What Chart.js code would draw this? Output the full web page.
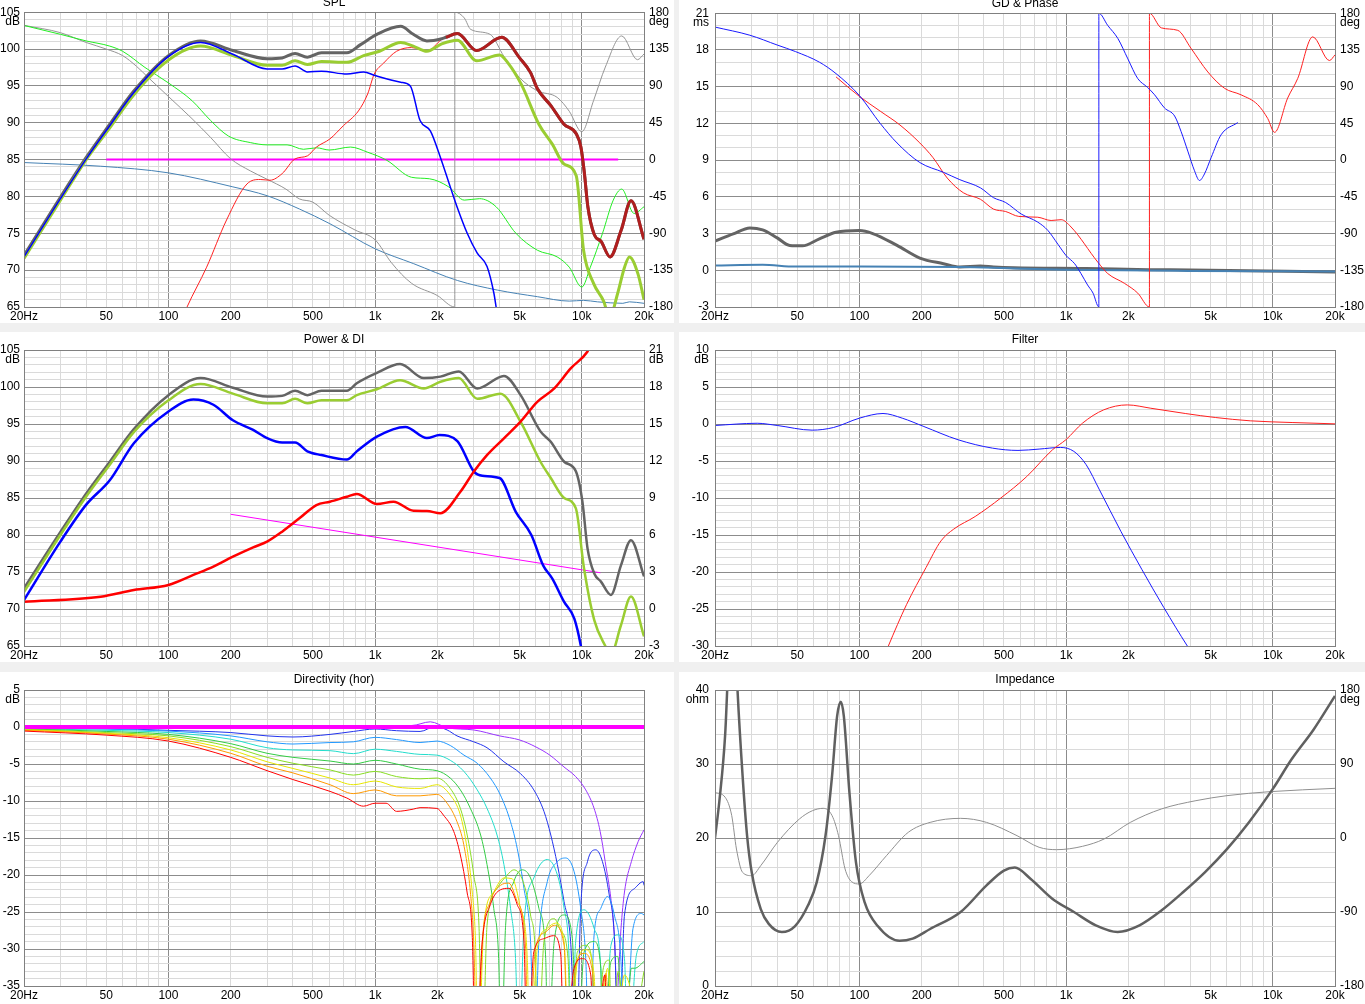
<!DOCTYPE html>
<html>
<head>
<meta charset="utf-8">
<script src="https://cdn.jsdelivr.net/npm/chart.js@4.4.0/dist/chart.umd.min.js"></script>
<style>
  body { margin: 0; background: #f0f0f0; width: 1365px; height: 1004px; overflow: hidden; position: relative; }
  .panel { position: absolute; background: #fff; }
  canvas { display: block; }
</style>
</head>
<body>
<div class="panel" style="left:0;top:0;width:674px;height:323px"><canvas id="spl" width="674" height="323"></canvas></div>
<div class="panel" style="left:679px;top:0;width:686px;height:323px"><canvas id="gd" width="686" height="323"></canvas></div>
<div class="panel" style="left:0;top:332px;width:674px;height:330px"><canvas id="pw" width="674" height="330"></canvas></div>
<div class="panel" style="left:679px;top:332px;width:686px;height:330px"><canvas id="flt" width="686" height="330"></canvas></div>
<div class="panel" style="left:0;top:672px;width:674px;height:332px"><canvas id="dir" width="674" height="332"></canvas></div>
<div class="panel" style="left:679px;top:672px;width:686px;height:332px"><canvas id="imp" width="686" height="332"></canvas></div>
<script>
// x axis (Hz)
const xGrid = [20, 30, 40, 50, 60, 70, 80, 90, 100, 200, 300, 400, 500, 600, 700, 800, 900,
  1000, 2000, 3000, 4000, 5000, 6000, 7000, 8000, 9000, 10000, 20000];
const xLabelVals = [20, 50, 100, 200, 500, 1000, 2000, 5000, 10000, 20000];
const xLabelText = ['20Hz', '50', '100', '200', '500', '1k', '2k', '5k', '10k', '20k'];
const xMajor = [100, 1000, 10000];

// SPL (dB, phase in deg)
const splTotF = [20, 30, 40, 52, 68, 100, 143, 205, 300, 355, 410, 470, 550, 730, 850, 1020, 1330, 1530, 1780, 2100];
const splTotV = [72.0, 79.9, 85.3, 89.8, 94.3, 99.1, 101.1, 99.8, 98.7, 98.8, 99.4, 98.9, 99.5, 99.5, 100.6, 102.0, 103.1, 102.0, 101.1, 101.4];
const splHiF = [2200, 2500, 3100, 4100, 5000, 5650, 6100, 7100, 8200, 9400, 9900, 10300, 10700, 11500, 12400, 13700, 15500, 17300, 20000];
const splHiV = [101.6, 102.1, 99.8, 101.6, 98.8, 96.8, 94.6, 92.3, 89.8, 88.5, 86.7, 83.1, 78.6, 74.8, 73.9, 71.8, 75.4, 79.4, 74.2];
const splYgF = [20, 30, 40, 52, 68, 100, 143, 205, 300, 355, 410, 470, 550, 730, 880, 1050, 1330, 1530, 1780, 2100,
  2500, 3100, 4000, 4400, 5100, 6200, 7200, 8200, 9400, 10200, 11400, 12800, 13600, 14900, 16100, 17000, 18700, 20000];
const splYgV = [71.6, 79.5, 85.0, 89.3, 93.8, 98.5, 100.4, 99.1, 97.8, 97.8, 98.4, 97.9, 98.3, 98.2, 99.1, 99.7, 100.9, 100.4, 99.7, 100.7,
  101.2, 98.4, 99.2, 98.1, 95.2, 89.8, 87.1, 84.4, 82.8, 72.7, 68.2, 65.7, 63.5, 66.8, 70.4, 71.8, 69.5, 66.0];
const splWooF = [20, 30, 40, 52, 68, 100, 143, 205, 300, 355, 410, 470, 550, 730, 880, 1000, 1330, 1480, 1650, 1850,
  2070, 2310, 2490, 2790, 3120, 3480, 3760, 3850, 4000];
const splWooV = [71.8, 79.7, 85.1, 89.6, 94.1, 99.0, 100.9, 99.3, 97.3, 97.3, 97.7, 96.9, 97.0, 96.6, 96.9, 96.4, 95.5, 95.0, 90.3, 88.9,
  85.3, 81.3, 78.6, 75.0, 72.3, 70.5, 66.8, 65.0, 62.0];
const splGrnF = [20, 30, 40, 52, 60, 77, 100, 130, 160, 195, 250, 300, 375, 450, 520, 600, 760, 920, 1140, 1500,
  1830, 2270, 2700, 3200, 3850, 4800, 6100, 7600, 8700, 10000, 11000, 12600, 14200, 15600, 17900, 20000];
const splGrnV = [103.2, 102.0, 101.1, 100.4, 99.7, 97.5, 95.4, 93.0, 90.3, 88.2, 87.3, 87.0, 87.0, 86.4, 86.6, 86.3, 86.7, 86.0, 84.9, 82.6,
  82.4, 81.3, 79.5, 79.7, 78.6, 75.0, 72.7, 71.8, 70.4, 67.7, 70.4, 75.0, 79.5, 81.0, 77.7, 78.6];
const splPhF = [20, 30, 40, 50, 60, 70, 80, 100, 130, 160, 200, 250, 300, 370, 430, 500, 600, 800, 1000, 1200,
  1500, 2000, 2430, 2430, 2700, 2900, 3600, 4200, 5000, 6100, 7600, 8700, 10000, 11400, 13000, 15600, 18600, 20000];
const splPhV = [164, 155, 143, 135, 127, 114, 100, 77, 50, 27, 1, -14, -24, -36, -48, -52, -68, -86, -98, -126,
  -151, -166, -180, 180, 173, 159, 153, 126, 100, 84, 76, 59, 34, 72, 113, 151, 122, 129];
const splTwF = [115, 123, 153, 191, 240, 278, 310, 355, 410, 470, 520, 604, 702, 830, 920, 990, 1100, 1270, 1500, 1780, 2100, 2300];
const splTwV = [63, 65, 70.4, 76.8, 81.7, 82.3, 82.2, 83.1, 85.1, 85.5, 86.7, 87.8, 89.6, 91.6, 93.9, 96.6, 98.1, 99.7, 100.2, 99.7, 101.3, 101.8];
const splSbF = [20, 47, 100, 205, 300, 430, 604, 1000, 1530, 2500, 3900, 6100, 8700, 10200, 11900, 15800, 17000, 20000];
const splSbV = [84.6, 84.1, 83.2, 81.3, 80.1, 78.3, 76.3, 72.9, 70.9, 68.6, 67.3, 66.4, 65.8, 65.9, 65.7, 65.5, 65.7, 65.5];
const splRefF = [50, 15000];
const splRefV = [85, 85];

// GD (ms) & phase (deg)
const gdPhBF = [20, 29.5, 40, 49, 64, 77, 100, 126, 152, 196, 255, 306, 385, 445, 510, 606, 729, 815, 912, 1000,
  1100, 1180, 1270, 1350, 1440, 1440, 1590, 1780, 1990, 2220, 2480, 2680, 2990, 3350, 3600, 3880, 4180, 4420, 4670, 5030, 5620, 6770];
const gdPhBV = [163, 153, 141, 133, 120, 106, 79, 45, 21, -3, -15, -24, -34, -46, -52, -66, -76, -86, -103, -117,
  -127, -139, -153, -163, -180, 180, 165, 149, 124, 100, 89, 80, 64, 54, 35, 11, -13, -25, -17, 3, 31, 46];
const gdPhRF = [77, 100, 126, 157, 196, 227, 266, 318, 385, 445, 510, 590, 729, 846, 946, 1057, 1423, 1590, 1915, 2222,
  2530, 2530, 2890, 3470, 4020, 4850, 5840, 7020, 8450, 9450, 10200, 11800, 13200, 15600, 18800, 20000];
const gdPhRV = [102, 78, 60, 43, 21, 3, -22, -40, -48, -60, -63, -69, -70, -74, -73, -82, -125, -139, -151, -163,
  -180, 180, 162, 159, 137, 108, 88, 80, 68, 51, 34, 76, 100, 151, 122, 129];
const gdTotF = [20, 24.5, 29.5, 34, 40, 46, 53, 64, 77, 100, 116, 152, 196, 255, 306, 385, 445, 560, 1250, 2500, 4000, 20000];
const gdTotV = [2.38, 2.97, 3.46, 3.3, 2.65, 2.03, 2.0, 2.57, 3.1, 3.24, 3.0, 2.03, 1.0, 0.54, 0.27, 0.35, 0.27, 0.2, 0.14, 0.05, 0.03, -0.14];
const gdSbF = [20, 34, 49, 100, 306, 560, 1000, 3900, 20000];
const gdSbV = [0.4, 0.45, 0.3, 0.3, 0.27, 0.15, 0.05, -0.05, -0.1];

// Power & DI
const pwTotF = [20, 30, 40, 52, 68, 100, 143, 205, 300, 355, 410, 470, 550, 730, 815, 1020, 1320, 1720, 2070, 2540,
  3120, 4200, 5060, 6310, 7080, 8220, 9360, 10070, 10660, 11490, 12380, 13830, 15470, 17300, 20000];
const pwTotV = [72.8, 80.4, 85.6, 89.9, 94.3, 98.9, 101.2, 99.9, 98.7, 98.8, 99.5, 98.9, 99.5, 99.5, 100.5, 101.9, 103.1, 101.2, 101.4, 102.1,
  99.8, 101.5, 98.9, 94.0, 92.6, 89.9, 88.6, 84.5, 78.2, 74.8, 73.7, 71.9, 75.9, 79.3, 74.4];
const pwYgF = [20, 30, 40, 52, 68, 100, 143, 205, 300, 355, 410, 470, 550, 730, 815, 1020, 1320, 1720, 2070, 2540,
  3120, 4040, 5060, 6310, 7080, 8220, 9360, 10250, 11490, 13000, 13800, 15470, 17300, 20000];
const pwYgV = [72.3, 80.0, 85.2, 89.5, 93.9, 98.2, 100.4, 99.1, 97.8, 97.8, 98.4, 97.8, 98.2, 98.2, 98.9, 99.7, 100.9, 99.8, 100.7, 101.2,
  98.4, 99.1, 95.3, 89.9, 87.7, 85.0, 83.6, 75.5, 68.5, 65.0, 63.8, 67.8, 71.7, 66.3];
const pwPowF = [20, 30, 40, 52, 68, 100, 132, 165, 205, 257, 300, 355, 410, 470, 550, 730, 815, 1020, 1400, 1780,
  2050, 2500, 3000, 3300, 4000, 4800, 5700, 6500, 7200, 8200, 9200, 9900, 10300];
const pwPowV = [71.2, 79.1, 84.1, 87.4, 92.4, 96.7, 98.3, 97.6, 95.5, 94.2, 93.1, 92.5, 92.5, 91.3, 90.8, 90.2, 91.3, 93.3, 94.6, 93.1,
  93.5, 92.7, 88.6, 88.0, 87.7, 83.1, 80.0, 75.9, 74.1, 71.0, 68.7, 65.0, 62.0];
const pwDiF = [20, 47, 68, 100, 132, 165, 205, 257, 300, 355, 430, 520, 604, 730, 815, 1020, 1227, 1535, 1782, 2067,
  2585, 3000, 3485, 4200, 5055, 6090, 7360, 8840, 10640, 11500];
const pwDiV = [0.59, 1.0, 1.54, 1.95, 2.76, 3.43, 4.24, 5.0, 5.46, 6.27, 7.35, 8.43, 8.7, 9.1, 9.32, 8.51, 8.7, 7.97, 7.95, 7.76,
  9.5, 11.13, 12.49, 13.84, 15.19, 16.8, 17.89, 19.51, 20.86, 22];
const pwRefF = [200, 12300];
const pwRefV = [82.8, 74.9];

// Filter
const fltLoF = [20, 32, 40, 59, 75, 100, 130, 161, 205, 300, 440, 585, 740, 940, 1090, 1250, 1450, 1840, 2330, 2970, 3860, 4200];
const fltLoV = [-0.2, 0.1, -0.2, -0.83, -0.47, 0.79, 1.42, 0.79, -0.34, -2.13, -3.26, -3.57, -3.39, -3.17, -3.7, -5.5, -8.9, -14.5, -19.7, -24.8, -30, -31.5];
const fltHiF = [125, 138, 169, 210, 248, 286, 363, 483, 645, 858, 1000, 1200, 1520, 1980, 2570, 3770, 5270, 7770, 12400, 20000];
const fltHiV = [-33, -30, -24.4, -19.4, -15.8, -14.2, -12.5, -10, -7.1, -3.5, -2.1, 0.11, 1.91, 2.58, 2.13, 1.42, 0.88, 0.43, 0.2, 0.02];

// Directivity (hor), one curve per angle
const dirRefF = [20, 20000];
const dirRefV = [0, 0];
const dirVioF = [20, 100, 605, 1000, 1500, 1850, 2230, 3000, 4000, 5000, 6000, 7000, 8200, 9340, 10450, 11470, 12270, 12980, 14000, 14420, 14800, 15480, 16090, 17370, 18730, 20000];
const dirVioV = [-0.2, -0.2, -0.2, 0.2, 0.2, 0.7, -0.1, -0.4, -1.2, -1.75, -2.7, -3.8, -5.4, -6.7, -8.5, -11, -14.1, -18.2, -24.5, -29, -36, -27.2, -22.3, -18.2, -15.5, -13.9];
const dirBluF = [20, 50, 100, 200, 300, 400, 605, 785, 1000, 1270, 1650, 1950, 2230, 2490, 3000, 3480, 4200, 5050, 5860, 6560,
  7080, 7620, 8210, 8830, 9400, 9880, 10650, 11690, 12590, 13580, 14370, 15100, 16090, 18040, 19820, 20000];
const dirBluV = [-0.1, -0.2, -0.45, -0.75, -1.2, -1.35, -1.0, -0.6, -0.27, -0.5, -0.6, 0.05, -0.4, -1.2, -2.0, -2.8, -4.7, -6.3, -8.5, -11.4,
  -14.6, -18.6, -23.6, -29, -45, -24.5, -18.2, -16.6, -18.2, -22.7, -28.1, -45, -25.4, -21.8, -20.9, -21.4];
const dirAzF = [20, 50, 100, 200, 300, 400, 605, 785, 1000, 1270, 1650, 1990, 2310, 2690, 3120, 3610, 4040, 4520, 4870, 5250,
  5650, 5900, 6200, 6810, 7620, 8360, 9170, 9880, 10450, 10850, 11470, 12360, 13330, 14370, 15480, 16090, 17700, 19450, 20000];
const dirAzV = [-0.15, -0.3, -0.55, -1.2, -2.0, -2.3, -2.1, -2.0, -1.4, -1.7, -2.1, -1.9, -2.5, -3.8, -4.9, -6.9, -9.2, -12.8, -16.4, -21.8,
  -29, -45, -29, -20.9, -18.2, -17.7, -19.5, -24.5, -31.3, -45, -28.1, -24.5, -22.9, -25.4, -31.7, -45, -27.2, -25.2, -25.4];
const dirCyF = [20, 50, 100, 200, 300, 400, 605, 785, 1000, 1270, 1650, 1990, 2310, 2690, 3120, 3480, 3890, 4200, 4520, 4780,
  4960, 5250, 5860, 6810, 7620, 8210, 8680, 8900, 9340, 10260, 11470, 12360, 12730, 13840, 14920, 16090, 16720, 18380, 20000];
const dirCyV = [-0.2, -0.45, -0.75, -1.65, -2.8, -3.1, -3.2, -3.6, -3.0, -3.3, -3.7, -3.8, -4.5, -6.0, -8.5, -11.0, -14.6, -18.6, -24.5, -31.3,
  -45, -26.8, -20.4, -17.9, -20.0, -24.5, -31.3, -45, -29, -24.7, -27.2, -32.6, -45, -29.5, -28.1, -31.3, -45, -30.8, -29];
const dirGrF = [20, 50, 100, 200, 300, 400, 605, 785, 1000, 1270, 1650, 1990, 2310, 2585, 2890, 3240, 3480, 3750, 3960, 4070,
  4280, 4690, 5150, 5650, 6200, 6690, 6860, 7350, 8210, 9000, 9520, 10260, 11470, 12360, 12590, 13840, 14920, 16090, 17370, 18040, 20000];
const dirGrV = [-0.25, -0.6, -1.0, -2.25, -3.55, -4.1, -4.6, -5.0, -4.5, -5.0, -5.7, -5.9, -6.9, -8.5, -11, -14.6, -18.6, -24.5, -31.3, -45,
  -26.8, -20.9, -19.3, -20.4, -24.5, -31.3, -45, -29, -25.4, -28.6, -45, -30.4, -29, -32.6, -45, -31.7, -31, -45, -32.6, -32.6, -31.7];
const dirLmF = [20, 50, 100, 200, 300, 400, 605, 785, 1000, 1270, 1650, 1990, 2310, 2585, 2790, 3000, 3180, 3300, 3480, 3890,
  4360, 4690, 5200, 5650, 5970, 6130, 6560, 7350, 7900, 8580, 8900, 9500, 10450, 11260, 11690, 12730, 13580, 14000, 15000, 16700, 20000];
const dirLmV = [-0.3, -0.75, -1.2, -2.65, -4.1, -4.9, -5.8, -6.5, -6.0, -6.7, -7.0, -6.9, -8.3, -11, -14.6, -20, -26.8, -45, -26.8, -21.8,
  -20, -19.3, -20.9, -25.4, -31.3, -45, -29, -25.9, -27.5, -31.3, -45, -30.5, -29.5, -32, -45, -32.5, -31.5, -45, -33, -45, -33];
const dirYeF = [20, 50, 100, 200, 300, 400, 605, 785, 1000, 1270, 1650, 1990, 2310, 2585, 2785, 2950, 3060, 3150, 3360, 3750,
  4200, 4600, 5050, 5450, 5600, 6090, 6810, 7480, 8210, 8680, 9520, 10450, 11470, 11910, 13330, 14370, 16090, 20000];
const dirYeV = [-0.4, -0.85, -1.45, -3.1, -4.7, -5.6, -6.9, -7.8, -7.3, -8.1, -8.3, -7.8, -9.2, -11.9, -16.4, -22.3, -29, -45, -26.8, -22.3,
  -20.4, -20.5, -24.5, -31.3, -45, -29.9, -27.2, -26.5, -29, -45, -31.7, -30.1, -33.5, -45, -32.6, -45, -33.5, -45];
const dirOrF = [20, 50, 100, 200, 300, 400, 605, 785, 1000, 1270, 1650, 1990, 2230, 2490, 2685, 2890, 3000, 3120, 3300, 3610,
  4040, 4440, 4870, 5350, 5490, 5970, 6690, 7350, 8210, 8580, 9340, 10260, 11260, 11690, 13080, 13840, 20000];
const dirOrV = [-0.45, -0.95, -1.65, -3.55, -5.3, -6.2, -7.8, -9.0, -8.5, -9.3, -9.3, -9.1, -10.3, -12.8, -15.9, -22.3, -29, -45, -29, -23.6,
  -21.4, -21.1, -23.6, -29.9, -45, -29.9, -27.7, -26.8, -29.5, -45, -32.2, -30.6, -33.1, -45, -33.3, -45, -45];
const dirRdF = [20, 50, 100, 200, 300, 400, 605, 730, 878, 1000, 1130, 1270, 1530, 1650, 1990, 2140, 2400, 2585, 2785, 2950,
  3060, 3300, 3610, 4040, 4440, 4870, 5250, 5450, 5860, 6560, 7290, 7910, 8210, 9170, 10070, 11050, 11470, 12940, 13330, 20000];
const dirRdV = [-0.55, -1.1, -1.9, -4.1, -5.9, -7.1, -8.7, -9.6, -10.7, -10.3, -10.3, -11.4, -11.1, -10.9, -11.0, -11.9, -14.1, -17.3, -22.3, -28.1,
  -45, -29, -24, -22, -21.8, -24, -29, -45, -30.4, -28.6, -28.2, -30.8, -45, -32.6, -31.3, -33.5, -45, -33.5, -45, -45];

// Impedance (ohm, deg)
const impF = [20, 21, 22.4, 23.6, 24.6, 25.7, 27.2, 28.6, 30.1, 33.3, 36.4, 42.1, 48.8, 56.4, 62.1, 68.5, 73.7, 78.0, 81.2, 84.0,
  89.4, 96.2, 106, 122.6, 156.4, 180.9, 219.7, 308.7, 412, 500, 565, 672, 857, 1091, 1392, 1776, 2266, 2890, 3688, 4704,
  6001, 7656, 9988, 12380, 15800, 20000];
const impV = [20.0, 25, 34, 48, 52, 40, 28.4, 20.3, 15.4, 10.4, 8.4, 7.3, 8.1, 10.9, 14.0, 20.3, 28.4, 36.5, 38.4, 36.5,
  26.2, 16.7, 11.3, 8.1, 6.1, 6.4, 7.7, 10.0, 13.6, 15.6, 16.0, 14.5, 11.8, 10.0, 8.2, 7.3, 8.2, 10.2, 12.7, 15.4,
  18.5, 22.1, 26.6, 30.7, 34.7, 39.2];
const impPhF = [20, 22.4, 24.1, 25.4, 27.2, 30.1, 33.3, 40.1, 51.2, 59.2, 66.8, 73.7, 79.2, 85.2, 91.6, 100, 111.3, 135.1, 172.3, 219.7,
  308.7, 412, 579, 740, 899, 1201, 1527, 2045, 2890, 4248, 6001, 9736, 20000];
const impPhV = [55.5, 49.5, 27.2, -13.4, -41.8, -45.8, -33.6, -5.3, 23.1, 33.2, 36.1, 27.2, 2.8, -37.7, -53.1, -55.9, -45.8, -21.5, 6.9, 19,
  23.9, 19, 2.8, -11.3, -14.2, -10.1, -1.2, 19, 35.3, 45.4, 51.5, 56.4, 60.4];

Chart.defaults.font.family = '"Liberation Sans", Arial, sans-serif';
Chart.defaults.font.size = 12;
Chart.defaults.color = '#000';

const MAJOR = '#8c8c8c';
const MINOR = '#dadada';

function pts(f, v) {
  return f.map((x, i) => ({ x: x, y: v[i] }));
}

function line(f, v, color, width, axis) {
  return {
    data: pts(f, v),
    borderColor: color,
    borderWidth: width,
    yAxisID: axis || 'y',
    pointRadius: 0,
    cubicInterpolationMode: 'monotone',
    fill: false
  };
}

// one chart panel; o.l/o.r/o.t/o.b = plot box inside the canvas
function panel(id, o) {
  const cv = document.getElementById(id);
  const W = cv.width, H = cv.height;
  const scales = {
    x: {
      type: 'logarithmic', min: 20, max: 20000,
      afterBuildTicks: s => { s.ticks = xGrid.map(v => ({ value: v })); },
      afterFit: s => { s.height = H - o.b; },
      ticks: {
        autoSkip: false, maxRotation: 0, minRotation: 0, padding: 2,
        callback: v => { const i = xLabelVals.indexOf(v); return i < 0 ? '' : xLabelText[i]; }
      },
      grid: { color: c => (c.tick && xMajor.includes(c.tick.value)) ? MAJOR : MINOR, drawTicks: false },
      border: { display: false }
    },
    y: {
      position: 'left', min: o.yMin, max: o.yMax,
      afterFit: s => { s.width = o.l; },
      ticks: {
        stepSize: o.yStep, autoSkip: false, maxTicksLimit: 1000, padding: o.lp,
        callback: v => (v % o.yLab === 0 ? String(v) : '')
      },
      grid: { color: c => (c.tick && c.tick.value % o.yLab === 0) ? MAJOR : MINOR, drawTicks: false },
      border: { display: false }
    }
  };
  if (o.y2) {
    scales.y2 = {
      position: 'right', min: o.y2[0], max: o.y2[1],
      afterFit: s => { s.width = W - o.r; },
      ticks: { stepSize: o.y2[2], autoSkip: false, maxTicksLimit: 1000, padding: o.rp, callback: v => String(v) },
      grid: { display: false, drawTicks: false },
      border: { display: false }
    };
  }
  new Chart(cv, {
    type: 'line',
    data: { datasets: o.sets },
    options: {
      responsive: false,
      animation: false,
      layout: { padding: { top: o.t, left: 0, bottom: 0, right: o.y2 ? 0 : W - o.r } },
      plugins: { legend: { display: false }, tooltip: { enabled: false } },
      scales: scales
    },
    plugins: [{
      id: 'deco',
      afterDatasetsDraw(chart) {
        const ctx = chart.ctx, a = chart.chartArea;
        ctx.save();
        ctx.strokeStyle = '#808080';
        ctx.lineWidth = 1;
        ctx.strokeRect(Math.round(a.left) + 0.5, Math.round(a.top) + 0.5,
          Math.round(a.right - a.left), Math.round(a.bottom - a.top));
        ctx.font = '12px "Liberation Sans", Arial, sans-serif';
        ctx.fillStyle = '#000';
        ctx.textBaseline = 'middle';
        ctx.textAlign = 'center';
        ctx.fillText(o.title, (a.left + a.right) / 2, a.top - 10);
        ctx.textAlign = 'right';
        ctx.fillText(o.unitL, a.left - o.lp, a.top + 9.5);
        if (o.unitR) {
          ctx.textAlign = 'left';
          ctx.fillText(o.unitR, a.right + o.rp, a.top + 9.5);
        }
        ctx.restore();
      }
    }]
  });
}

// first dataset is drawn on top
panel('spl', {
  title: 'SPL', l: 24, r: 644, t: 11, b: 307, lp: 4, rp: 5,
  yMin: 65, yMax: 105, yStep: 1, yLab: 5, unitL: 'dB',
  y2: [-180, 180, 45], unitR: 'deg',
  sets: [
    line(splHiF, splHiV, '#b01e1e', 3),
    line(splWooF, splWooV, '#0000ff', 1.5),
    line(splYgF, splYgV, '#9acd32', 3),
    line(splTotF.concat(splHiF), splTotV.concat(splHiV), '#646464', 3),
    line(splTwF, splTwV, '#ff2020', 1),
    line(splGrnF, splGrnV, '#22ee22', 1),
    line(splPhF, splPhV, '#959595', 1, 'y2'),
    line(splSbF, splSbV, '#4682b4', 1),
    line(splRefF, splRefV, '#ff00ff', 2)
  ]
});

panel('gd', {
  title: 'GD & Phase', l: 36, r: 656, t: 11, b: 307, lp: 6, rp: 5,
  yMin: -3, yMax: 21, yStep: 1, yLab: 3, unitL: 'ms',
  y2: [-180, 180, 45], unitR: 'deg',
  sets: [
    line(gdPhBF, gdPhBV, '#1a1aff', 1, 'y2'),
    line(gdPhRF, gdPhRV, '#ff2020', 1, 'y2'),
    line(gdSbF, gdSbV, '#4682b4', 2),
    line(gdTotF, gdTotV, '#646464', 3)
  ]
});

panel('pw', {
  title: 'Power & DI', l: 24, r: 644, t: 18, b: 314, lp: 4, rp: 5,
  yMin: 65, yMax: 105, yStep: 1, yLab: 5, unitL: 'dB',
  y2: [-3, 21, 3], unitR: 'dB',
  sets: [
    line(pwDiF, pwDiV, '#ff0000', 2.5, 'y2'),
    line(pwPowF, pwPowV, '#0000ff', 2.5),
    line(pwYgF, pwYgV, '#9acd32', 2.5),
    line(pwTotF, pwTotV, '#646464', 2.5),
    line(pwRefF, pwRefV, '#ff00ff', 1)
  ]
});

panel('flt', {
  title: 'Filter', l: 36, r: 656, t: 18, b: 314, lp: 6, rp: 5,
  yMin: -30, yMax: 10, yStep: 1, yLab: 5, unitL: 'dB',
  sets: [
    line(fltHiF, fltHiV, '#ff2020', 1),
    line(fltLoF, fltLoV, '#1a1aff', 1)
  ]
});

panel('dir', {
  title: 'Directivity (hor)', l: 24, r: 644, t: 18, b: 314, lp: 4, rp: 5,
  yMin: -35, yMax: 5, yStep: 1, yLab: 5, unitL: 'dB',
  sets: [
    line(dirRefF, dirRefV, '#ff00ff', 4),
    line(dirRdF, dirRdV, '#ff0000', 1),
    line(dirOrF, dirOrV, '#ff9900', 1),
    line(dirYeF, dirYeV, '#e6e600', 1),
    line(dirLmF, dirLmV, '#88dd22', 1),
    line(dirGrF, dirGrV, '#33cc44', 1),
    line(dirCyF, dirCyV, '#22ddcc', 1),
    line(dirAzF, dirAzV, '#2299ff', 1),
    line(dirBluF, dirBluV, '#2233ee', 1),
    line(dirVioF, dirVioV, '#9933ff', 1)
  ]
});

panel('imp', {
  title: 'Impedance', l: 36, r: 656, t: 18, b: 314, lp: 6, rp: 5,
  yMin: 0, yMax: 40, yStep: 2, yLab: 10, unitL: 'ohm',
  y2: [-180, 180, 90], unitR: 'deg',
  sets: [
    line(impF, impV, '#606060', 2.5),
    line(impPhF, impPhV, '#909090', 1, 'y2')
  ]
});
</script>
</body>
</html>
